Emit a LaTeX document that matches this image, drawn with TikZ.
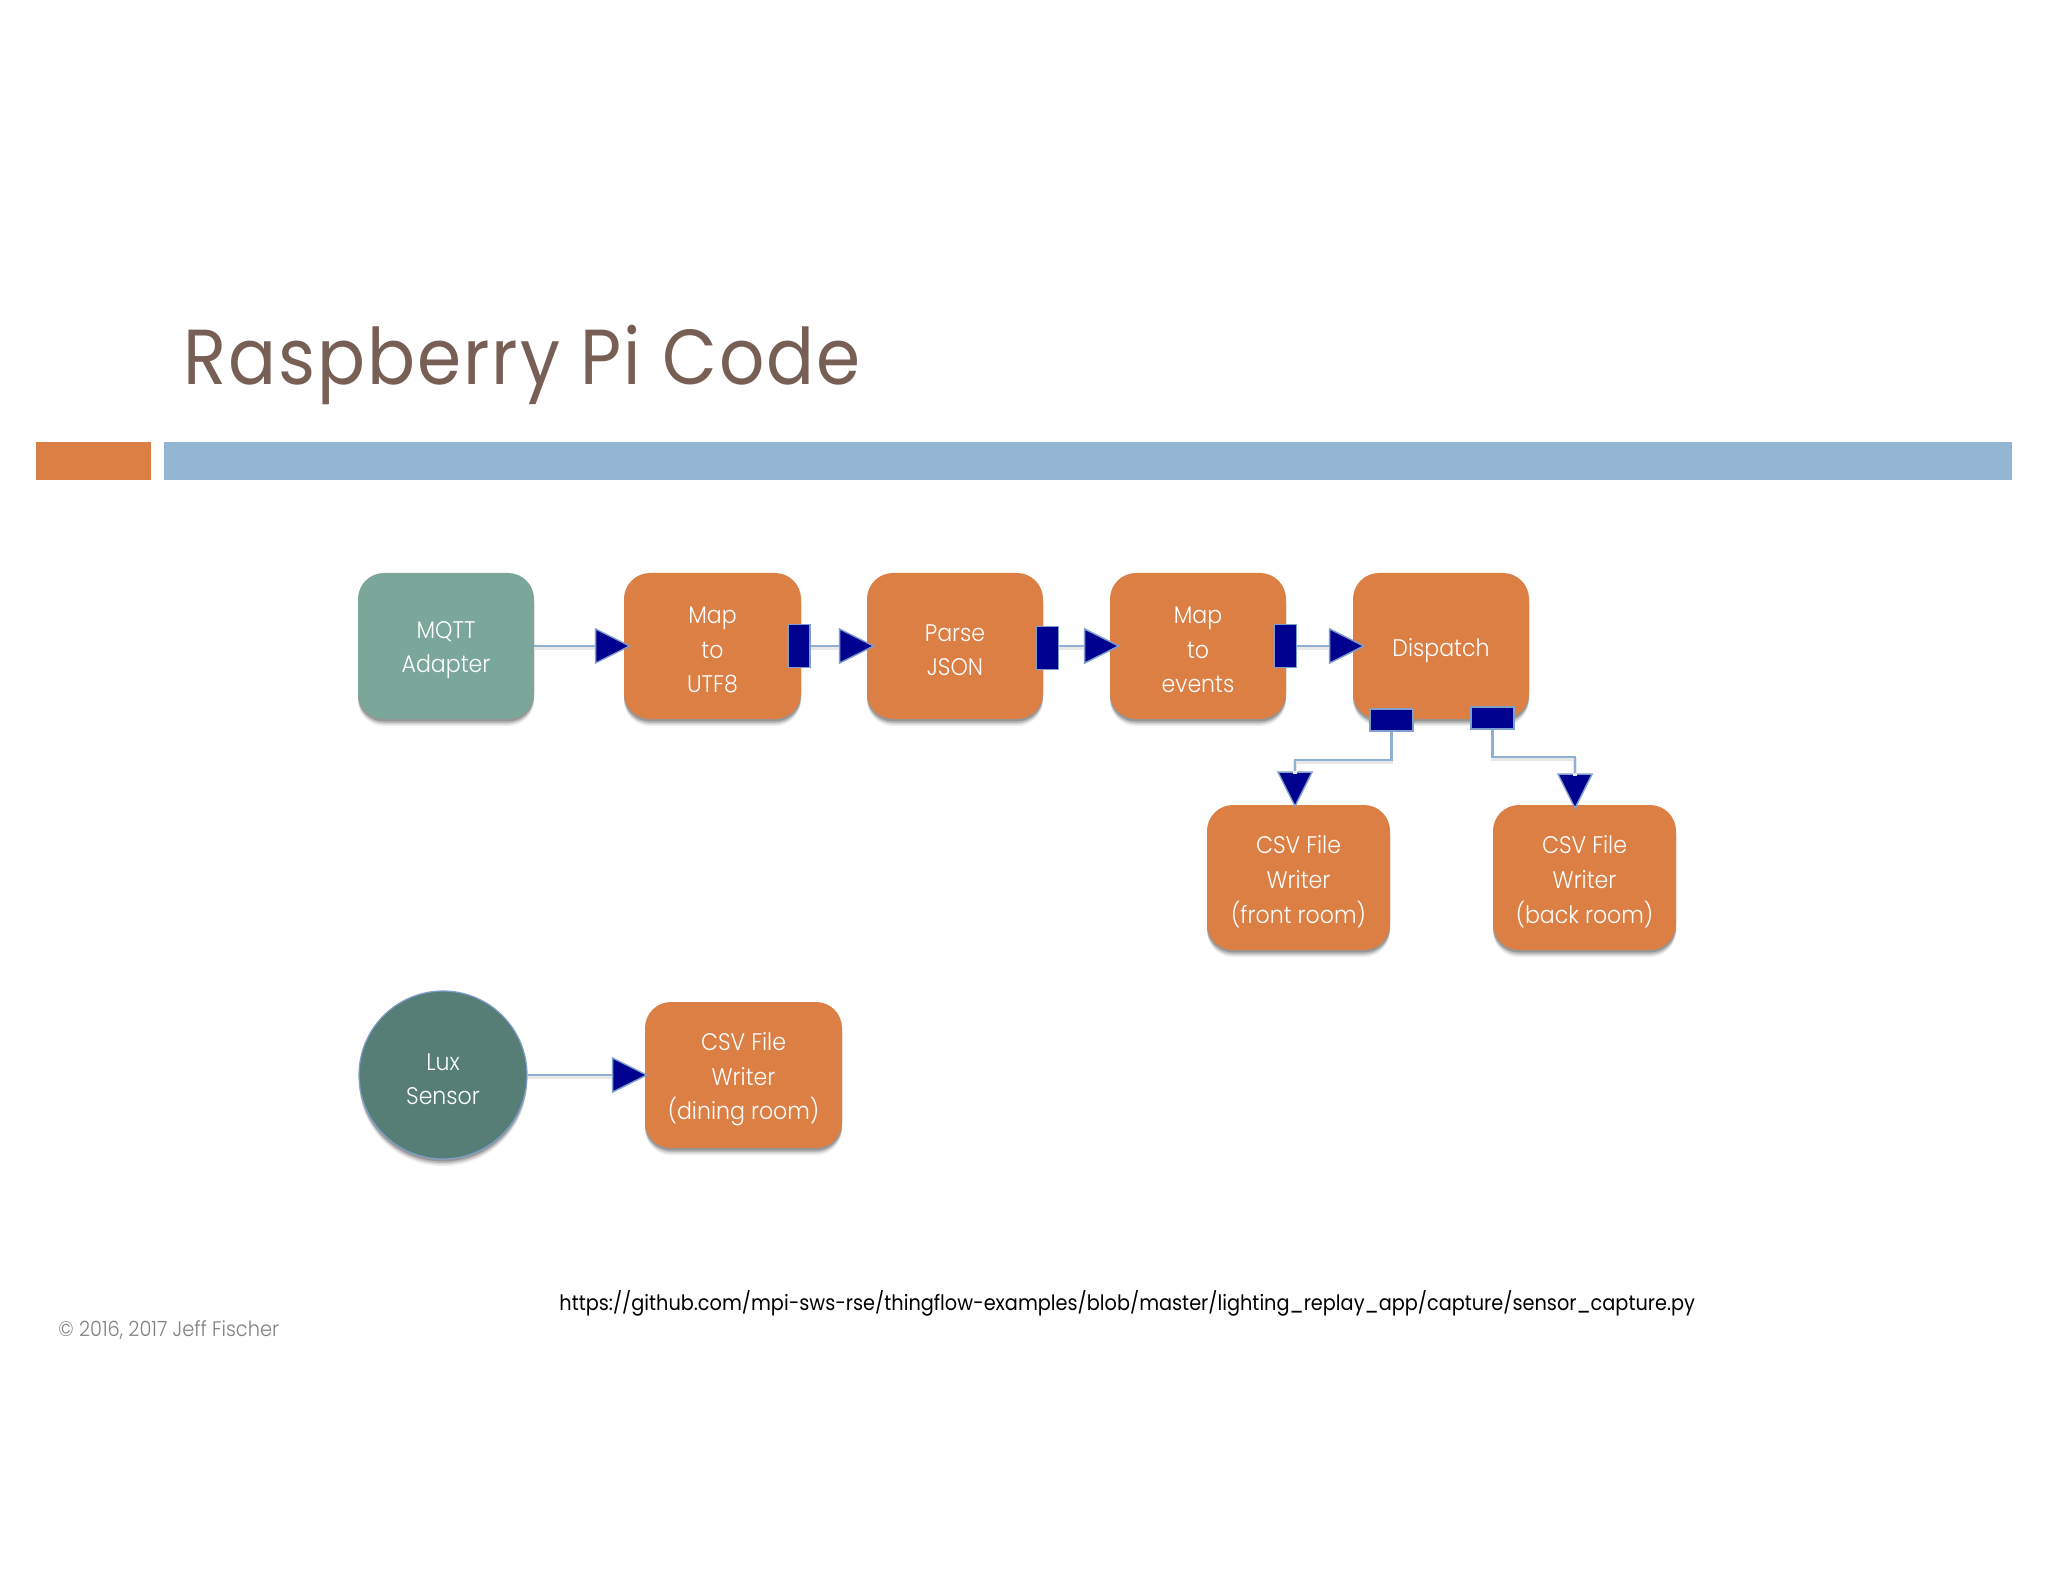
\documentclass[tikz,border=0pt]{standalone}
\usepackage{fontspec}
\setmainfont{Poppins Light}[FakeStretch=0.92]
\newfontfamily\titlefont{Poppins}[FakeStretch=0.91,LetterSpace=2.5]
\newfontfamily\urlfont{Poppins}[FakeStretch=0.91]
\usetikzlibrary{shapes.geometric,shadows,calc}
\definecolor{orangeb}{HTML}{DC7F45}
\definecolor{tealb}{HTML}{7BA79B}
\definecolor{teald}{HTML}{567E76}
\definecolor{barblue}{HTML}{94B5D3}
\definecolor{titlec}{HTML}{775F55}
\definecolor{navyp}{HTML}{00008E}
\definecolor{edgeb}{HTML}{7E9FCB}
\definecolor{linkb}{HTML}{8FB0D3}
\tikzset{
  wh/.style 2 args={minimum width=#1*.5pt,minimum height=#2*.5pt},
  softshadow/.style={
    drop shadow={shadow xshift=0pt,shadow yshift=-3.6pt,opacity=.06,fill=black},
    drop shadow={shadow xshift=0pt,shadow yshift=-2.8pt,opacity=.10,fill=black},
    drop shadow={shadow xshift=0pt,shadow yshift=-2.0pt,opacity=.14,fill=black},
    drop shadow={shadow xshift=0pt,shadow yshift=-1.2pt,opacity=.18,fill=black}},
  lbl/.style={text=white,font=\fontsize{12}{17.3}\selectfont,align=center,inner sep=0pt},
  txt/.style={label={[lbl,yshift=-2.1pt]center:{#1}}},
  box/.style={rectangle,rounded corners=13pt,softshadow},
  orangebox/.style={box,fill=orangeb},
  port/.style={rectangle,fill=navyp,draw=edgeb,line width=.7pt,inner sep=0pt},
  tri/.style={isosceles triangle,isosceles triangle stretches,fill=navyp,draw=edgeb,line width=.7pt,inner sep=0pt,
     minimum width=17pt,minimum height=17pt,anchor=apex},
  conn/.style={draw=linkb,line width=1.3pt,
     preaction={draw=black!9,line width=1.8pt,transform canvas={yshift=-1.2pt}}}
}
\begin{document}
\begin{tikzpicture}[x=.5pt,y=-.5pt]
\useasboundingbox (0,0) rectangle (2048,1582);
\fill[white] (0,0) rectangle (2048,1582);
% header
\node[anchor=base west,inner sep=0pt,text=titlec,font=\titlefont\fontsize{39}{39}\selectfont] (title) at (183,385) {Raspberry Pi Code};
\node[fill=orangeb,inner sep=0pt,minimum width=57.5pt,minimum height=19pt,anchor=north west] (accent) at (36,442) {};
\node[fill=barblue,inner sep=0pt,minimum width=924pt,minimum height=19pt,anchor=north west] (bar) at (164,442) {};
% boxes
\node[box,fill=tealb,wh={176}{146},txt={MQTT\\Adapter}] (mqtt) at (446,646) {};
\node[orangebox,wh={177}{146},txt={Map\\to\\UTF8}] (utf) at (712.5,646) {};
\node[orangebox,wh={176}{146},txt={Parse\\JSON}] (json) at (955,646) {};
\node[orangebox,wh={176}{146},txt={Map\\to\\events}] (events) at (1198,646) {};
\node[orangebox,wh={176}{146},txt={Dispatch}] (dispatch) at (1441,646) {};
\node[orangebox,wh={183}{145},txt={CSV File\\Writer\\(front room)}] (front) at (1298.5,877.5) {};
\node[orangebox,wh={183}{145},txt={CSV File\\Writer\\(back room)}] (back) at (1584.5,877.5) {};
\node[orangebox,wh={197}{146},txt={CSV File\\Writer\\(dining room)}] (dining) at (743.5,1075) {};
\node[circle,fill=teald,draw=edgeb,line width=.6pt,softshadow,inner sep=0pt,minimum size=84pt,txt={Lux\\Sensor}] (lux) at (443,1075) {};
% output ports
\node[port,wh={22}{43}] (p1) at (799,646) {};
\node[port,wh={22}{43}] (p2) at (1047.5,648) {};
\node[port,wh={22}{43}] (p3) at (1285.5,646) {};
\node[port,wh={43}{22}] (p4) at (1391.5,720) {};
\node[port,wh={43}{22}] (p5) at (1492.5,718) {};
% input triangles
\node[tri] (t1) at (631.5,646) {};
\node[tri] (t2) at (875.5,646) {};
\node[tri] (t3) at (1120.5,646) {};
\node[tri] (t4) at (1365.5,646) {};
\node[tri,shape border rotate=-90] (t5) at (1295,808) {};
\node[tri,shape border rotate=-90] (t6) at (1575,810) {};
\node[tri] (t7) at (648.5,1075) {};
% connectors
\coordinate (e1) at (1340,760);
\coordinate (e2) at (1535,757);
\draw[conn] (mqtt.east) -- (t1.lower side);
\draw[conn] (p1.east) -- (t2.lower side);
\draw[conn] (p2.east |- t3.lower side) -- (t3.lower side);
\draw[conn] (p3.east) -- (t4.lower side);
\draw[conn] (p4.south) |- (e1) -| (t5.lower side);
\draw[conn] (p5.south) |- (e2) -| (t6.lower side);
\draw[conn] (lux.east) -- (t7.lower side);
% footer
\node[anchor=base west,inner sep=0pt,text=black,font=\urlfont\fontsize{10.6}{13}\selectfont] (url) at (559,1310) {https://github.com/mpi-sws-rse/thingflow-examples/blob/master/lighting\_replay\_app/capture/sensor\_capture.py};
\node[anchor=base west,inner sep=0pt,text=black!50,font=\fontsize{10.5}{12}\selectfont] (copy) at (58,1336) {© 2016, 2017 Jeff Fischer};
\end{tikzpicture}
\end{document}
